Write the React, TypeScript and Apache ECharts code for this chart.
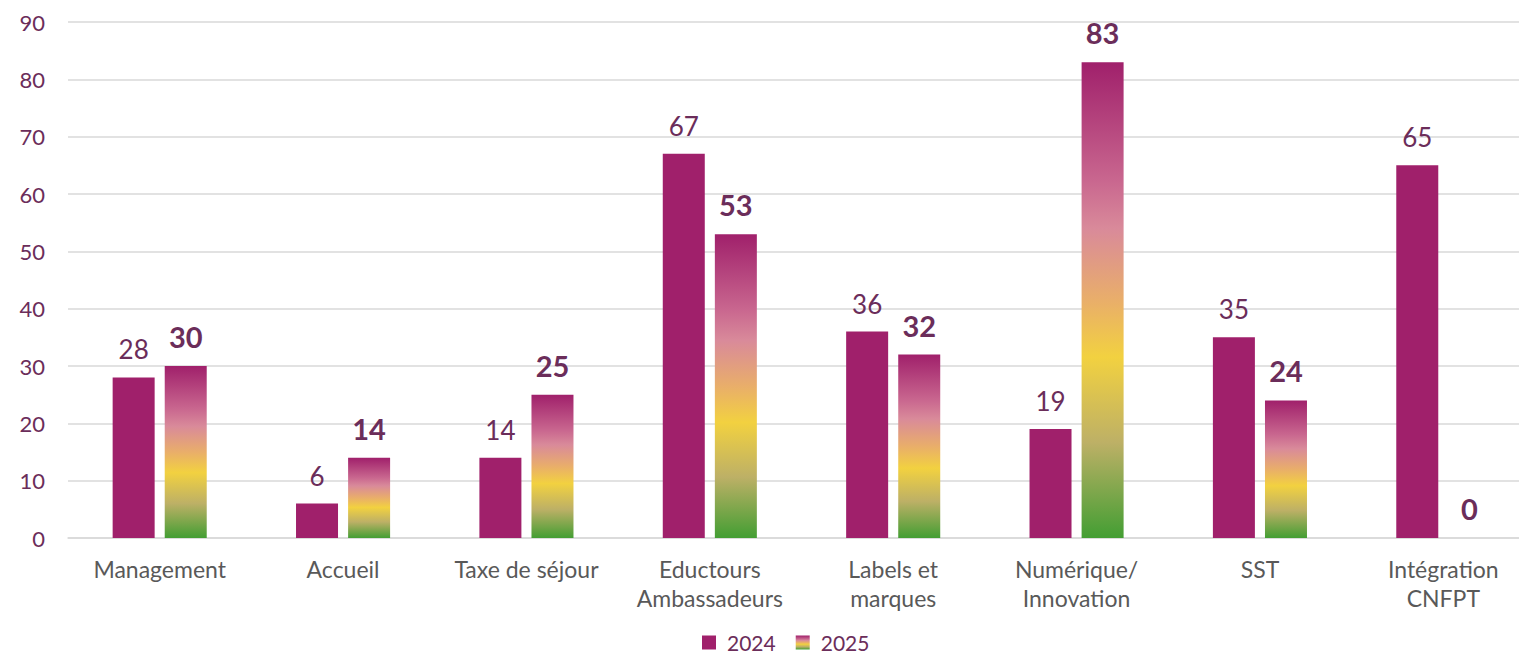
import React, { useEffect, useRef } from "react";
import * as echarts from "echarts";

const categories = [
  "Management",
  "Accueil",
  "Taxe de séjour",
  "Eductours\nAmbassadeurs",
  "Labels et\nmarques",
  "Numérique/\nInnovation",
  "SST",
  "Intégration\nCNFPT",
];
const values2024 = [28, 6, 14, 67, 36, 19, 35, 65];
const values2025 = [30, 14, 25, 53, 32, 83, 24, 0];
const yTicks = { min: 0, max: 90, interval: 10 };

const FONT = "Lato, 'Open Sans', sans-serif";
const PURPLE = "#6B2D5A";

export default function App() {
  const ref = useRef<HTMLDivElement>(null);
  useEffect(() => {
    document.body.style.margin = "0";
    document.body.style.overflow = "hidden";
    if (!ref.current) return;
    const chart = echarts.init(ref.current, null, { renderer: "svg" });
    const grad = new echarts.graphic.LinearGradient(0, 0, 0, 1, [
      { offset: 0, color: "#A0206B" },
      { offset: 0.25, color: "#C9678F" },
      { offset: 0.35, color: "#D98A9A" },
      { offset: 0.5, color: "#E9AE6A" },
      { offset: 0.62, color: "#F2D140" },
      { offset: 0.8, color: "#BDB066" },
      { offset: 1, color: "#439E33" },
    ]);
    chart.setOption({
      animation: false,
      textStyle: { fontFamily: FONT },
      grid: { left: 68, right: 0, top: 22, bottom: 121, containLabel: false },
      legend: {
        top: 632,
        left: 702,
        padding: 0,
        itemWidth: 14,
        itemHeight: 14,
        itemGap: 20,
        textStyle: { fontSize: 21, color: PURPLE, fontFamily: FONT, padding: [0, 0, 0, 6] },
        data: [
          { name: "2024", icon: "rect" },
          { name: "2025", icon: "rect" },
        ],
      },
      xAxis: {
        type: "category",
        data: categories,
        axisLine: { show: true, lineStyle: { color: "#D9D9D9", width: 1.5 } },
        axisTick: { show: false },
        axisLabel: {
          color: "#595959",
          fontSize: 23,
          lineHeight: 29,
          margin: 16,
          interval: 0,
          fontFamily: FONT,
        },
      },
      yAxis: {
        type: "value",
        min: yTicks.min,
        max: yTicks.max,
        interval: yTicks.interval,
        axisLine: { show: false },
        axisTick: { show: false },
        splitLine: { lineStyle: { color: "#D9D9D9", width: 1.5 } },
        axisLabel: { color: PURPLE, fontSize: 22, margin: 23, fontFamily: FONT },
      },
      series: [
        {
          name: "2024",
          type: "bar",
          data: values2024,
          barWidth: 42,
          barGap: "24%",
          itemStyle: { color: "#A0206B" },
          label: {
            show: true,
            position: "top",
            distance: 15,
            color: PURPLE,
            fontSize: 26,
            fontFamily: FONT,
          },
        },
        {
          name: "2025",
          type: "bar",
          data: values2025,
          barWidth: 42,
          itemStyle: { color: grad },
          label: {
            show: true,
            position: "top",
            distance: 15,
            color: PURPLE,
            fontSize: 29,
            fontWeight: "bold",
            fontFamily: FONT,
          },
        },
      ],
    });
    return () => chart.dispose();
  }, []);
  return (
    <div style={{ width: 1519, height: 659, overflow: "hidden" }}>
      <div ref={ref} style={{ width: 1535, height: 659 }} />
    </div>
  );
}
